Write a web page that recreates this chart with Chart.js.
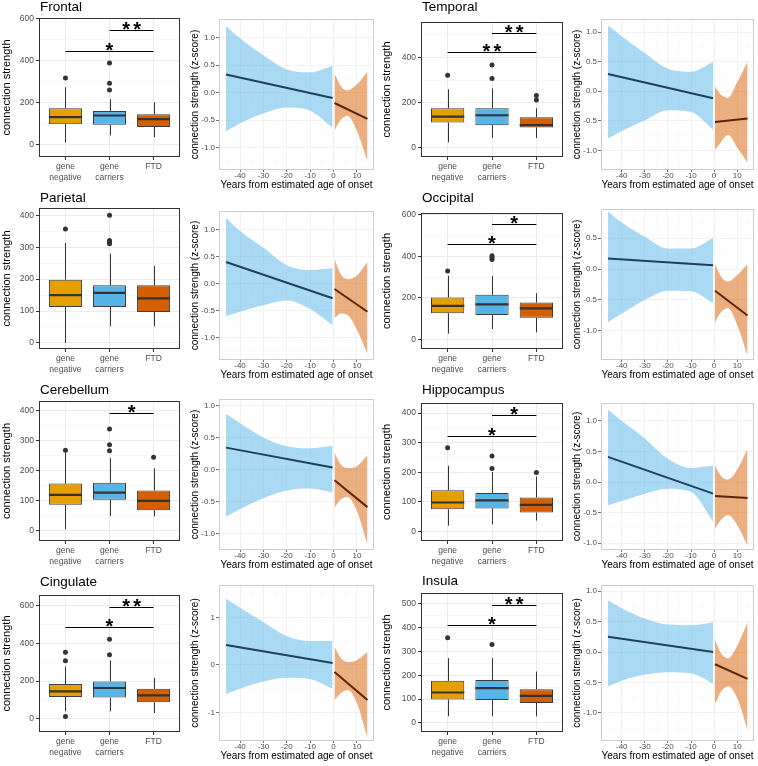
<!DOCTYPE html>
<html>
<head>
<meta charset="utf-8">
<script src="https://cdn.jsdelivr.net/npm/chart.js@4.4.1/dist/chart.umd.min.js"></script>
<style>
html, body { margin: 0; padding: 0; background: #fff; }
body { position: relative; width: 758px; height: 766px; overflow: hidden; }
canvas { position: absolute; }
</style>
</head>
<body>
<script>
Chart.defaults.font.family = '"Liberation Sans", Arial, Helvetica, sans-serif';
Chart.defaults.animation = false;

// ---- data : box plots (connection strength) ----
const regions = ['Frontal', 'Temporal', 'Parietal', 'Occipital', 'Cerebellum', 'Hippocampus', 'Cingulate', 'Insula'];
const groupLabels = [['gene', 'negative'], ['gene', 'carriers'], 'FTD'];
const groupColors = ['#E69F00', '#56B4E9', '#D55E00'];

const boxQ1 = [[98,95,84],[112,100,90],[113,113,97],[127,118,105],[86,103,68],[75,78,64],[115,112,87],[99,96,84]];
const boxMedian = [[131,139,122],[138,144,100],[150,157,140],[162,169,150],[119,127,99],[98,105,90],[145,163,124],[128,146,114]];
const boxQ3 = [[174,161,145],[175,175,135],[198,181,181],[202,215,178],[157,160,134],[139,130,115],[184,198,159],[177,181,142]];
const whiskerLow = [[11,44,36],[24,43,43],[0,52,52],[29,51,35],[4,49,47],[20,24,37],[39,39,30],[28,28,28]];
const whiskerHigh = [[273,216,202],[259,263,175],[313,280,242],[306,306,223],[262,242,208],[222,201,186],[278,310,216],[272,272,216]];
const outliers = [
  [[317], [388, 292, 260], []],
  [[321], [366, 307], [231, 212]],
  [[357], [400, 321, 316, 311], []],
  [[330], [403, 393, 385], []],
  [[268], [339, 287, 267], [245]],
  [[283], [255, 213], [199]],
  [[354, 308, 11], [423, 340], []],
  [[358], [330], []]
];
// [from group, to group, height, label]
const sigBars = [
  [[1, 3, 447, '*'], [2, 3, 545, '**']],
  [[1, 3, 422, '**'], [2, 3, 509, '**']],
  [],
  [[1, 3, 459, '*'], [2, 3, 554, '*']],
  [[2, 3, 393, '*']],
  [[1, 3, 324, '*'], [2, 3, 393, '*']],
  [[1, 3, 488, '*'], [2, 3, 595, '**']],
  [[1, 3, 411, '*'], [2, 3, 497, '**']]
];
const strengthRange = [[-58,602],[-41,557],[-19,423],[-45,608],[-35,433],[-32,434],[-71,658],[-38,546]];
const strengthStep = [200, 200, 100, 200, 100, 100, 200, 100];

// ---- data : z-score vs years from onset ----
const preYears = [-46, -40, -30, -20, -10, -0.4];
const postYears = [0.4, 3, 6, 10, 14.5];
const preUpper = [
  [1.21, 0.99, 0.68, 0.42, 0.37, 0.49],
  [1.11, 0.93, 0.64, 0.38, 0.33, 0.50],
  [1.21, 0.97, 0.66, 0.34, 0.25, 0.29],
  [0.93, 0.75, 0.52, 0.33, 0.33, 0.50],
  [0.87, 0.72, 0.50, 0.36, 0.33, 0.37],
  [1.18, 1.00, 0.71, 0.38, 0.23, 0.27],
  [1.39, 1.20, 0.90, 0.60, 0.50, 0.50],
  [0.85, 0.72, 0.55, 0.45, 0.44, 0.49]
];
const preLower = [
  [-0.71, -0.56, -0.38, -0.27, -0.33, -0.64],
  [-0.80, -0.67, -0.49, -0.32, -0.35, -0.65],
  [-0.60, -0.52, -0.40, -0.31, -0.47, -0.77],
  [-0.86, -0.72, -0.50, -0.35, -0.36, -0.55],
  [-0.74, -0.62, -0.45, -0.33, -0.30, -0.36],
  [-0.38, -0.31, -0.19, -0.11, -0.16, -0.65],
  [-0.61, -0.50, -0.35, -0.27, -0.30, -0.50],
  [-0.56, -0.47, -0.37, -0.33, -0.35, -0.52]
];
const preFit = [[0.33,-0.10],[0.29,-0.12],[0.40,-0.27],[0.17,0.06],[0.34,0.03],[0.41,-0.19],[0.42,0.04],[0.25,0.00]];
const postUpper = [
  [0.35, 0.12, 0.04, 0.15, 0.38],
  [0.08, -0.06, -0.11, 0.15, 0.50],
  [0.46, 0.18, 0.08, 0.15, 0.40],
  [0.08, -0.12, -0.20, -0.10, 0.08],
  [0.26, 0.08, 0.02, 0.05, 0.22],
  [0.27, 0.10, 0.04, 0.20, 0.54],
  [0.38, 0.15, 0.06, 0.10, 0.27],
  [0.20, -0.02, -0.10, 0.10, 0.49]
];
const postLower = [
  [-0.69, -0.50, -0.42, -0.70, -1.25],
  [-0.99, -0.86, -0.74, -0.95, -1.21],
  [-0.64, -0.55, -0.58, -0.85, -1.30],
  [-0.86, -0.70, -0.63, -0.90, -1.40],
  [-0.60, -0.47, -0.43, -0.65, -1.18],
  [-0.76, -0.62, -0.54, -0.70, -1.04],
  [-0.74, -0.60, -0.53, -0.80, -1.54],
  [-0.85, -0.65, -0.56, -0.75, -1.28]
];
const postFit = [[-0.19,-0.48],[-0.52,-0.46],[-0.10,-0.52],[-0.35,-0.75],[-0.17,-0.59],[-0.23,-0.26],[-0.15,-0.74],[-0.20,-0.44]];
const zRange = [[-1.41,1.34],[-1.33,1.22],[-1.41,1.34],[-1.47,0.97],[-1.26,1.10],[-1.11,1.29],[-1.60,1.68],[-1.46,1.10]];
const zStep = [0.5, 0.5, 0.5, 0.5, 0.5, 0.5, 1, 0.5];
const yearRange = [-49, 17.3];

// ---- layout (chart areas: left, top, right, bottom) ----
const boxAreas = [[39,18,180,157],[421,22,563,157],[39,208,180,349],[421,213,563,349],
                  [39,401,180,541],[421,403,563,541],[39,595,180,732],[421,593,563,732]];
const titleY = [7, 7, 198, 198, 390, 390, 582, 581];
const lineAreas = [[219,19,374,170],[601,19,754,170],[219,211,374,360],[601,209,754,360],
                   [219,399,374,550],[601,403,754,550],[219,585,374,741],[601,585,754,741]];

function addCanvas(area, m) {
  const c = document.createElement('canvas');
  const w = area[2] - area[0] + m.l + m.r;
  const h = area[3] - area[1] + m.t + m.b;
  c.width = w; c.height = h;
  c.style.left = (area[0] - m.l) + 'px';
  c.style.top = (area[1] - m.t) + 'px';
  c.style.width = w + 'px'; c.style.height = h + 'px';
  document.body.appendChild(c);
  return c;
}

function gridTicks(min, max, step) {
  const half = step / 2, out = [];
  for (let v = Math.ceil(min / half - 1e-9) * half; v <= max + 1e-9; v += half) out.push({value: +v.toFixed(6)});
  return out;
}
const isMajor = (v, step) => Math.abs(v / step - Math.round(v / step)) < 1e-6;

function drawBoxPanel(i) {
  const a = boxAreas[i];
  const axisW = a[0] < 300 ? 39 : 41;
  const topM = a[1] - (titleY[i] - 10);
  const cv = addCanvas(a, {l: axisW, t: topM, r: 4, b: 30});
  const step = strengthStep[i];
  const boxes = [0, 1, 2].map(g => ({x: g + 1, y: [boxQ1[i][g], boxQ3[i][g]]}));
  const pts = [];
  outliers[i].forEach((list, g) => list.forEach(v => pts.push({x: g + 1, y: v})));

  const parts = {
    id: 'boxParts',
    beforeDatasetsDraw(chart) {
      const {ctx, scales: {x, y}} = chart;
      ctx.save();
      ctx.strokeStyle = '#333'; ctx.lineWidth = 1;
      for (let g = 0; g < 3; g++) {
        const px = Math.round(x.getPixelForValue(g + 1)) + 0.5;
        ctx.beginPath();
        ctx.moveTo(px, y.getPixelForValue(whiskerHigh[i][g]));
        ctx.lineTo(px, y.getPixelForValue(boxQ3[i][g]));
        ctx.moveTo(px, y.getPixelForValue(boxQ1[i][g]));
        ctx.lineTo(px, y.getPixelForValue(whiskerLow[i][g]));
        ctx.stroke();
      }
      ctx.restore();
    },
    afterDatasetsDraw(chart) {
      const {ctx, scales: {x, y}} = chart;
      const bars = chart.getDatasetMeta(1).data;
      ctx.save();
      ctx.strokeStyle = '#333'; ctx.lineWidth = 2.2;
      for (let g = 0; g < 3; g++) {
        const half = bars[g].width / 2;
        const py = y.getPixelForValue(boxMedian[i][g]);
        ctx.beginPath();
        ctx.moveTo(bars[g].x - half, py); ctx.lineTo(bars[g].x + half, py);
        ctx.stroke();
      }
      ctx.strokeStyle = '#000'; ctx.lineWidth = 1; ctx.fillStyle = '#000';
      ctx.font = 'bold 20px "Liberation Sans", Arial, sans-serif';
      ctx.textAlign = 'center'; ctx.textBaseline = 'alphabetic';
      sigBars[i].forEach(([g1, g2, h, lab]) => {
        const py = Math.round(y.getPixelForValue(h)) + 0.5;
        const x1 = x.getPixelForValue(g1), x2 = x.getPixelForValue(g2);
        ctx.beginPath(); ctx.moveTo(x1, py); ctx.lineTo(x2, py); ctx.stroke();
        const mid = (x1 + x2) / 2;
        for (let k = 0; k < lab.length; k++) ctx.fillText('*', mid + (k - (lab.length - 1) / 2) * 11, py + 5);
      });
      ctx.restore();
    },
    afterDraw(chart) {
      const {ctx, chartArea: ca} = chart;
      ctx.save();
      ctx.strokeStyle = '#333'; ctx.lineWidth = 1;
      ctx.strokeRect(ca.left + 0.5, ca.top + 0.5, ca.right - ca.left - 1, ca.bottom - ca.top - 1);
      ctx.fillStyle = '#000';
      ctx.font = '13.5px "Liberation Sans", Arial, sans-serif';
      ctx.textAlign = 'left'; ctx.textBaseline = 'middle';
      ctx.fillText(regions[i], ca.left + 1, 10);
      ctx.restore();
    }
  };

  new Chart(cv, {
    type: 'bar',
    data: {
      datasets: [
        {type: 'scatter', data: pts, pointRadius: 2.5, pointBackgroundColor: '#333', pointBorderWidth: 0, order: 0},
        {type: 'bar', data: boxes, backgroundColor: groupColors, borderColor: '#3c3c3c', borderWidth: 1,
         borderSkipped: false, barPercentage: 0.75, categoryPercentage: 1, order: 1}
      ]
    },
    options: {
      responsive: false,
      layout: {padding: {top: topM, right: 4, left: 0, bottom: 0}},
      plugins: {legend: {display: false}, tooltip: {enabled: false}},
      scales: {
        x: {
          type: 'linear', min: 0.4, max: 3.6, offset: false,
          afterBuildTicks: s => { s.ticks = [1, 2, 3].map(v => ({value: v})); },
          afterFit: s => { s.height = 30; },
          ticks: {callback: v => groupLabels[v - 1], color: '#4d4d4d', font: {size: 8.5, lineHeight: 1.2},
                  padding: 2, autoSkip: false, maxRotation: 0},
          grid: {offset: false, color: '#ebebeb', lineWidth: 1, tickLength: 3, tickColor: '#333'},
          border: {display: false}
        },
        y: {
          type: 'linear', min: strengthRange[i][0], max: strengthRange[i][1],
          afterBuildTicks: s => { s.ticks = gridTicks(strengthRange[i][0], strengthRange[i][1], step); },
          afterFit: s => { s.width = axisW; },
          ticks: {callback: v => isMajor(v, step) ? String(v) : '', color: '#4d4d4d', font: {size: 8.5}, padding: 2, autoSkip: false},
          grid: {
            color: c => isMajor(c.tick.value, step) ? '#ebebeb' : '#f3f3f3',
            lineWidth: c => isMajor(c.tick.value, step) ? 1 : 0.6,
            tickLength: 3,
            tickColor: c => isMajor(c.tick.value, step) ? '#333' : 'rgba(0,0,0,0)'
          },
          border: {display: false},
          title: {display: true, text: 'connection strength', color: '#000', font: {size: 11}, padding: 0}
        }
      }
    },
    plugins: [parts]
  });
}

function drawLinePanel(i) {
  const a = lineAreas[i];
  const cv = addCanvas(a, {l: 30, t: 6, r: 3, b: 21});
  const step = zStep[i];
  const pre = arr => preYears.map((x, k) => ({x, y: arr[k]}));
  const post = arr => postYears.map((x, k) => ({x, y: arr[k]}));
  const ribbon = (data, fill, bg) => ({data, showLine: true, fill, backgroundColor: bg, borderColor: 'rgba(0,0,0,0)',
                                        borderWidth: 0, pointRadius: 0, cubicInterpolationMode: 'monotone', order: 1});
  const fit = (data, col) => ({data, showLine: true, fill: false, borderColor: col, borderWidth: 2, pointRadius: 0, order: 0});

  const frame = {
    id: 'frame',
    afterDraw(chart) {
      const {ctx, chartArea: ca} = chart;
      ctx.save();
      ctx.strokeStyle = '#cccccc'; ctx.lineWidth = 1;
      ctx.strokeRect(ca.left + 0.5, ca.top + 0.5, ca.right - ca.left - 1, ca.bottom - ca.top - 1);
      ctx.restore();
    }
  };

  new Chart(cv, {
    type: 'scatter',
    data: {
      datasets: [
        ribbon(pre(preUpper[i]), '+1', 'rgba(86,180,233,0.5)'),
        ribbon(pre(preLower[i]), false, 'rgba(0,0,0,0)'),
        ribbon(post(postUpper[i]), '+1', 'rgba(213,94,0,0.5)'),
        ribbon(post(postLower[i]), false, 'rgba(0,0,0,0)'),
        fit([{x: preYears[0], y: preFit[i][0]}, {x: preYears[preYears.length - 1], y: preFit[i][1]}], '#1f3f5b'),
        fit([{x: postYears[0], y: postFit[i][0]}, {x: postYears[postYears.length - 1], y: postFit[i][1]}], '#5a2608')
      ]
    },
    options: {
      responsive: false,
      layout: {padding: {top: 6, right: 3, left: 0, bottom: 0}},
      plugins: {legend: {display: false}, tooltip: {enabled: false}},
      scales: {
        x: {
          type: 'linear', min: yearRange[0], max: yearRange[1],
          afterBuildTicks: s => { s.ticks = gridTicks(yearRange[0], yearRange[1], 10); },
          afterFit: s => { s.height = 21; },
          ticks: {callback: v => isMajor(v, 10) ? String(v) : '', color: '#4d4d4d', font: {size: 8, lineHeight: 1},
                  padding: 0, autoSkip: false, maxRotation: 0},
          grid: {
            color: c => isMajor(c.tick.value, 10) ? '#efefef' : '#f6f6f6',
            lineWidth: c => isMajor(c.tick.value, 10) ? 0.8 : 0.5,
            tickLength: 2,
            tickColor: c => isMajor(c.tick.value, 10) ? '#4d4d4d' : 'rgba(0,0,0,0)'
          },
          border: {display: false},
          title: {display: true, text: 'Years from estimated age of onset', color: '#000', font: {size: 10}, padding: 0}
        },
        y: {
          type: 'linear', min: zRange[i][0], max: zRange[i][1],
          afterBuildTicks: s => { s.ticks = gridTicks(zRange[i][0], zRange[i][1], step); },
          afterFit: s => { s.width = 30; },
          ticks: {callback: v => isMajor(v, step) ? (step < 1 ? v.toFixed(1) : String(v)) : '',
                  color: '#4d4d4d', font: {size: 8}, padding: 1, autoSkip: false},
          grid: {
            color: c => isMajor(c.tick.value, step) ? '#efefef' : '#f6f6f6',
            lineWidth: c => isMajor(c.tick.value, step) ? 0.8 : 0.5,
            tickLength: 3,
            tickColor: c => isMajor(c.tick.value, step) ? '#4d4d4d' : 'rgba(0,0,0,0)'
          },
          border: {display: false},
          title: {display: true, text: 'connection strength (z-score)', color: '#000', font: {size: 10}, padding: 0}
        }
      }
    },
    plugins: [frame]
  });
}

for (let i = 0; i < regions.length; i++) {
  drawBoxPanel(i);
  drawLinePanel(i);
}
</script>
</body>
</html>
